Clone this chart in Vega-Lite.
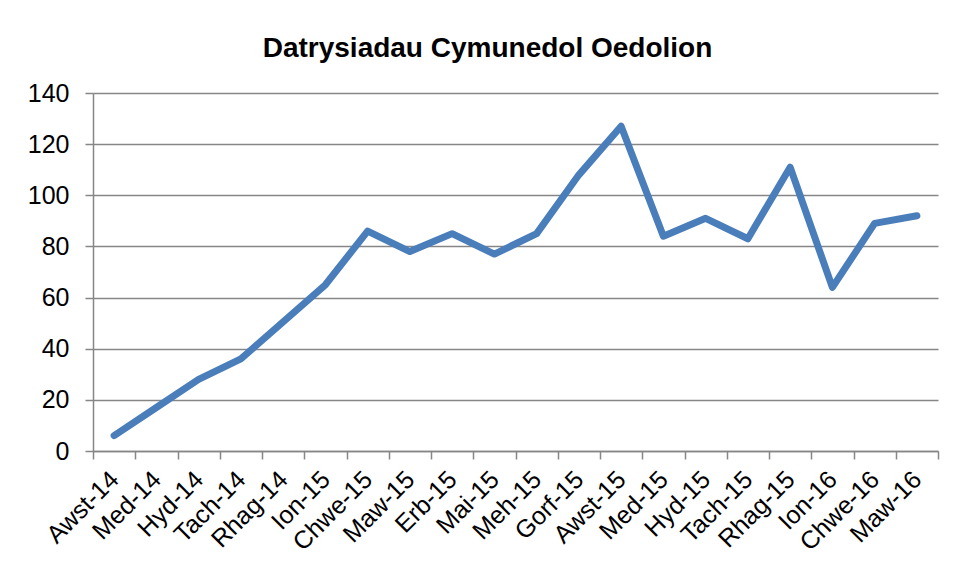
{
  "$schema": "https://vega.github.io/schema/vega-lite/v6.json",
  "width": 845,
  "height": 358,
  "autosize": {"type": "none"},
  "padding": {"left": 93, "top": 93, "right": 19, "bottom": 128},
  "background": "white",
  "title": {
    "text": "Datrysiadau Cymunedol Oedolion",
    "font": "Liberation Sans",
    "fontSize": 28,
    "fontWeight": "bold",
    "color": "#000000",
    "anchor": "middle",
    "frame": "group",
    "dx": -28,
    "baseline": "alphabetic",
    "offset": -4
  },
  "data": {
    "values": [
      {"month": "Awst-14", "value": 6},
      {"month": "Med-14", "value": 17},
      {"month": "Hyd-14", "value": 28},
      {"month": "Tach-14", "value": 36},
      {"month": "Rhag-14", "value": 50.5},
      {"month": "Ion-15", "value": 65},
      {"month": "Chwe-15", "value": 86},
      {"month": "Maw-15", "value": 78},
      {"month": "Erb-15", "value": 85},
      {"month": "Mai-15", "value": 77},
      {"month": "Meh-15", "value": 85},
      {"month": "Gorf-15", "value": 108},
      {"month": "Awst-15", "value": 127},
      {"month": "Med-15", "value": 84},
      {"month": "Hyd-15", "value": 91},
      {"month": "Tach-15", "value": 83},
      {"month": "Rhag-15", "value": 111},
      {"month": "Ion-16", "value": 64},
      {"month": "Chwe-16", "value": 89},
      {"month": "Maw-16", "value": 92}
    ]
  },
  "mark": {"type": "line", "color": "#4A7EBB", "strokeWidth": 7, "strokeJoin": "round", "strokeCap": "round"},
  "encoding": {
    "x": {
      "field": "month",
      "type": "nominal",
      "sort": null,
      "bandPosition": 0.5,
      "scale": {"type": "band", "paddingInner": 0, "paddingOuter": 0},
      "axis": {
        "title": null,
        "grid": false,
        "tickBand": "extent",
        "domainColor": "#868686",
        "domainWidth": 1.5,
        "tickColor": "#868686",
        "tickWidth": 1.5,
        "tickSize": 8,
        "labelAngle": -45,
        "labelAlign": "right",
        "labelBaseline": "middle",
        "labelFont": "Liberation Sans",
        "labelFontSize": 25,
        "labelColor": "#000000",
        "labelPadding": 16,
        "labelOverlap": false,
        "labelBound": false
      }
    },
    "y": {
      "field": "value",
      "type": "quantitative",
      "scale": {"domain": [0, 140], "nice": false},
      "axis": {
        "title": null,
        "values": [0, 20, 40, 60, 80, 100, 120, 140],
        "grid": true,
        "gridColor": "#868686",
        "gridWidth": 1.5,
        "domainColor": "#868686",
        "domainWidth": 1.5,
        "tickColor": "#868686",
        "tickWidth": 1.5,
        "tickSize": 8,
        "labelFont": "Liberation Sans",
        "labelFontSize": 25,
        "labelColor": "#000000",
        "labelPadding": 16
      }
    }
  },
  "config": {"view": {"stroke": null}}
}
